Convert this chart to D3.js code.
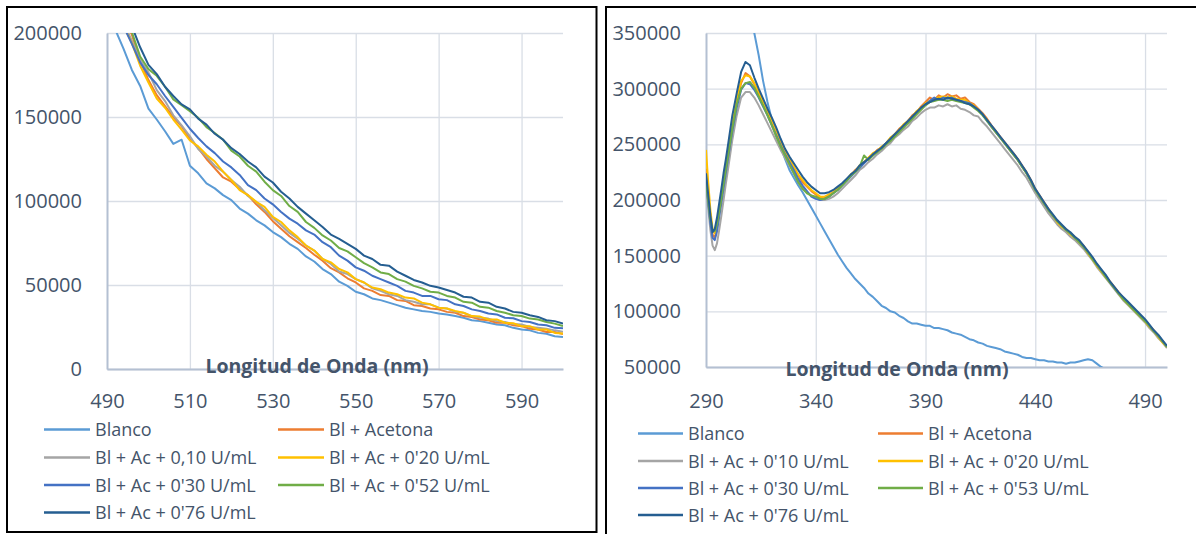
<!DOCTYPE html>
<html>
<head>
<meta charset="utf-8">
<script src="https://cdn.jsdelivr.net/npm/d3@7"></script>
<style>
  body { margin: 0; background: #ffffff; }
  svg { display: block; font-family: "Open Sans", "DejaVu Sans", sans-serif; }
</style>
</head>
<body>
<svg id="chart" width="1196" height="534"></svg>
<script>
// Fluorescence emission spectra. Intensities are listed in thousands of counts.
const UNIT = 1000;

// ---- Left panel: 490–600 nm ----
const wavelengthsLeft = [490,492,494,496,498,500,502,504,506,508,510,512,514,516,518,520,522,524,526,528,
  530,532,534,536,538,540,542,544,546,548,550,552,554,556,558,560,562,564,566,568,
  570,572,574,576,578,580,582,584,586,588,590,592,594,596,598,600];

const blancoLeft = [213,202,190.5,178,168.5,155,148.5,141.5,134,136.5, 121,116.5,110.5,107.5,103.5,100.5,95.5,92.5,88.5,85.5,
  81.5,78.5,74.5,71.5,67,64,59.5,56.5,52,49.5, 46,44.5,42,41,39.5,38,36.5,35.5,34.5,34,
  33,32.5,31.5,30.5,29,28.5,27.5,26.5,26,24.5, 23.5,23,21.5,21,19.5,19];
const acetonaLeft = [232,220,209,199,183.5,172,163,156.5,150,144.5, 137,131.5,125,119.5,114,111.5,107,103.5,98,93.5,
  88,83.5,79,75.5,72,68,64.5,60,57.5,54, 51.5,48,46.5,44,43.5,41,40.5,38,37.5,36,
  35.5,34,33.5,31.5,31,29.5,29,27.5,27.5,26, 25.5,24,23.5,22,22,20.8];
const u010Left = [230,218,206,195.5,184,176.5,166,159.5,151,145, 138.5,131,126.5,121,117.5,112.5,108.5,103,99.5,94.5,
  90,85.5,81,77.5,73.5,70.5,65.5,62.5,58,56.5, 53.5,51.5,48,46.5,44.5,43.5,41,40,38.5,38.5,
  36.5,36,34,33.5,31.5,30.5,30,28.5,28,26.8, 26.5,25,24.5,24,23,22.2];
const u020Left = [225,214,204,194,180.5,170.5,161,155.5,148.5,142.5, 136,132.5,127.5,123.5,117.5,112.5,106.5,103.5,99.5,96.5,
  90.5,87.5,82.5,78.5,73.5,70.5,65.5,63.5,59.5,57.5, 53.5,51.5,48.5,47.5,45.5,44.5,42.5,42,39.5,38.5,
  36.5,36,34.5,33.5,31.5,31.2,29.5,29.5,27.5,27.2, 25.5,25.5,23.5,23.5,21.5,21.2];
const u030Left = [228,216,204,193.5,182.5,175,169.5,162.5,156,149.5, 143,137.5,132.5,128.5,123.5,120,115.5,109.5,106.5,101.5,
  98,93.5,89.5,86.5,82.5,80,75.5,72.5,67.5,64.5, 60.5,58.5,55.5,53.5,51.5,49.5,46.5,45.5,43.5,43.5,
  41.5,41,38.5,37.5,35.5,34.5,33,32.5,30.5,30.2, 28.5,28,26.5,26,24.5,24.2];
const u052Left = [236,224,212,200.5,186,178.5,174.5,168,160.5,157, 153.5,149.5,144,140.5,136.5,130,126.5,121,117.5,111.5,
  106.5,103,97,93.5,87.5,84,79.5,76.5,72,70, 66.5,63,60.5,57.5,56.5,53.5,52,49.5,48,46,
  45.5,43.5,42.5,40,39.5,37,36.5,34.5,33.5,32, 31.5,30,29.5,28,27,25.6];
const u076Left = [240,228,216,204,191.5,181,175.5,168,162.5,157.5, 154.5,149,145.5,140,136.5,131.5,128,123.5,120,114.5,
  111,105.5,101.5,96.5,92.5,88.5,84.5,80,77.5,74.5, 71.5,67.5,65.5,62,61.5,58,55.5,53,51.5,49.5,
  48.5,47,45.5,43,42.5,40,39.5,37,36,34, 33.5,32,31,29,28.5,27];

const labelsLeft = ["Blanco", "Bl + Acetona", "Bl + Ac + 0,10 U/mL", "Bl + Ac + 0'20 U/mL",
  "Bl + Ac + 0'30 U/mL", "Bl + Ac + 0'52 U/mL", "Bl + Ac + 0'76 U/mL"];
const xTicksLeft = [490, 510, 530, 550, 570, 590];
const yTicksLeft = [0, 50000, 100000, 150000, 200000];

// ---- Right panel: 290–500 nm ----
const wavelengthsRight = [290,291,292,293,294,295,296,297,298,299,300,
  302,304,306,308,310,312,314,316,318,320, 322,324,326,328,330,332,334,336,338,340,
  342,344,346,348,350,352,354,356,358,360, 362,364,366,368,370,372,374,376,378,380,
  382,384,386,388,390,392,394,396,398,400, 402,404,406,408,410,412,414,416,418,420,
  422,424,426,428,430,432,434,436,438,440, 442,444,446,448,450,452,454,456,458,460,
  462,464,466,468,470,472,474,476,478,480, 482,484,486,488,490,492,494,496,498,500];

const blancoRight = [900,850,800,755,712,672,636,603,573,546,520,
  478,447,418,393,370,350,330,307,288,272, 260,248,237,227,220,213,207,200,193,186,
  179,172,165,158,151,145,139,134,129,125, 121,116,113,109,105,103,100,99,96,94,
  91,89,89,88,87,87,85,85,84,83, 81,80,79,77,75,74,72,71,69,68,
  67,66,64,63,62,61,59,58,58,57, 56,56,55,55,54,54,53,54,54,55,
  56,57,56,53,50,48,45,43,41,39, 37,35,34,33,32,31,30,29,28,27];
const acetonaRight = [228,206,185,169,166,174,187,200,213,226,239,
  265,287,305,314,311,304,296,287,278,269, 260,251,243,236,229,222,216,212,208,205,
  202,202,204,207,210,214,218,222,227,230, 234,238,241,245,247,251,255,259,264,267,
  271,276,279,284,288,292,290,294,292,295, 293,294,291,292,288,286,282,278,273,267,
  262,257,252,247,242,237,231,225,218,210, 204,198,192,186,181,177,174,170,167,163,
  159,153,148,142,137,132,127,122,117,112, 108,104,100,96,92,87,83,78,73,68];
const u010Right = [212,193,173,159,155,161,173,186,200,214,227,
  254,276,292,297,297,292,285,277,269,261, 253,245,238,231,224,217,212,207,204,202,
  200,200,201,203,206,210,214,218,222,227, 230,234,237,241,244,248,251,256,259,263,
  266,271,274,278,281,283,283,285,284,286, 284,285,282,281,279,276,275,270,266,261,
  256,251,246,241,236,231,225,220,213,206, 200,194,188,183,178,174,171,167,164,160,
  156,151,146,140,135,130,125,120,115,110, 106,102,98,94,90,85,81,76,72,67];
const u020Right = [245,216,191,174,170,177,189,202,216,229,242,
  268,290,307,312,311,305,297,288,279,270, 261,252,244,237,230,223,218,213,209,206,
  203,203,205,207,211,214,218,223,226,231, 234,238,242,244,248,251,256,259,263,268,
  271,275,280,283,287,289,291,292,293,292, 293,291,290,290,287,285,281,277,272,266,
  261,256,251,246,241,236,230,224,217,209, 203,197,191,186,180,176,173,169,166,162,
  158,152,147,141,136,131,126,121,116,111, 107,103,99,95,91,86,82,77,72,68];
const u030Right = [220,198,179,166,164,172,185,198,211,224,237,
  262,283,299,305,304,299,292,284,276,267, 258,249,241,234,227,219,213,208,203,201,
  200,201,203,206,209,213,217,221,225,229, 233,237,240,244,247,251,254,258,262,266,
  270,274,278,282,286,289,292,290,292,291, 292,290,289,288,287,284,281,277,271,266,
  261,256,251,246,241,236,230,224,217,209, 203,197,191,186,181,177,173,170,166,163,
  158,153,148,142,137,132,126,121,116,112, 108,104,100,96,92,87,82,78,73,68];
const u053Right = [218,199,183,173,172,178,189,201,214,227,239,
  264,286,300,305,306,301,293,285,276,267, 257,248,240,232,224,216,210,206,204,203,
  201,201,203,206,209,213,217,222,225,230, 240,236,240,243,246,250,253,257,261,265,
  269,273,277,281,285,288,289,290,290,289, 290,289,288,287,286,283,280,276,271,266,
  261,256,251,246,241,236,230,224,217,209, 203,197,191,186,181,177,173,170,166,162,
  158,153,147,142,137,131,126,121,116,111, 107,103,99,95,91,87,82,78,73,68];
const u076Right = [224,205,186,171,174,184,197,210,224,236,249,
  276,296,315,324,321,310,300,291,282,274, 265,255,246,239,233,227,221,216,212,209,
  206,206,207,209,212,215,219,223,226,231, 234,237,241,244,247,251,255,259,263,267,
  271,275,279,283,286,288,290,291,290,292, 291,290,289,287,286,284,281,277,272,267,
  262,257,252,247,242,237,231,225,218,210, 204,198,192,187,182,178,174,171,167,164,
  159,154,149,143,138,133,127,122,117,113, 109,105,101,97,93,88,83,79,74,69];

const labelsRight = ["Blanco", "Bl + Acetona", "Bl + Ac + 0'10 U/mL", "Bl + Ac + 0'20 U/mL",
  "Bl + Ac + 0'30 U/mL", "Bl + Ac + 0'53 U/mL", "Bl + Ac + 0'76 U/mL"];
const xTicksRight = [290, 340, 390, 440, 490];
const yTicksRight = [50000, 100000, 150000, 200000, 250000, 300000, 350000];

const seriesColors = ["#5B9BD5", "#ED7D31", "#A5A5A5", "#FFC000", "#4472C4", "#70AD47", "#255E91"];
const axisTitle = "Longitud de Onda (nm)";

// ---- Drawing ----
const TEXT = "#44546A";
const GRID = "#D9DEE6";
const AXIS = "#B4C0D2";
const svg = d3.select("#chart");

const panels = [
  {
    id: "left",
    frame: { x: 7, y: 7, w: 589.5, h: 525 },
    x: d3.scaleLinear().domain([490, 600]).range([107, 563]),
    y: d3.scaleLinear().domain([0, 200000]).range([369, 33]),
    xTicks: xTicksLeft, yTicks: yTicksLeft,
    wl: wavelengthsLeft,
    series: [blancoLeft, acetonaLeft, u010Left, u020Left, u030Left, u052Left, u076Left],
    labels: labelsLeft,
    title: { x: 317, y: 373 },
    xLabelPad: 25,
    legend: { col: [44, 278], swatchW: 46, textGap: 5, rows: [436, 464, 491.5, 519] }
  },
  {
    id: "right",
    frame: { x: 606, y: 7, w: 620, h: 560 },
    x: d3.scaleLinear().domain([290, 500]).range([706, 1167]),
    y: d3.scaleLinear().domain([50000, 350000]).range([367, 33]),
    xTicks: xTicksRight, yTicks: yTicksRight,
    wl: wavelengthsRight,
    series: [blancoRight, acetonaRight, u010Right, u020Right, u030Right, u053Right, u076Right],
    labels: labelsRight,
    title: { x: 897, y: 376 },
    xLabelPad: 27,
    legend: { col: [638, 878], swatchW: 45, textGap: 5, rows: [440, 467.5, 494.5, 521.5] }
  }
];

panels.forEach(p => {
  const g = svg.append("g").attr("class", "panel-" + p.id);
  const [x0, x1] = p.x.range();
  const [yBottom, yTop] = p.y.range();

  // frame
  g.append("rect")
    .attr("x", p.frame.x).attr("y", p.frame.y)
    .attr("width", p.frame.w).attr("height", p.frame.h)
    .attr("fill", "none").attr("stroke", "#000").attr("stroke-width", 2);

  // horizontal gridlines
  g.append("g")
    .attr("transform", `translate(${x0},0)`)
    .call(d3.axisLeft(p.y).tickValues(p.yTicks).tickSize(-(x1 - x0)).tickFormat(""))
    .call(s => s.select(".domain").remove())
    .call(s => s.selectAll(".tick line").attr("stroke", GRID).attr("stroke-width", 1.3));

  // vertical gridlines
  g.append("g")
    .attr("transform", `translate(0,${yBottom})`)
    .call(d3.axisBottom(p.x).tickValues(p.xTicks.slice(1)).tickSize(-(yBottom - yTop)).tickFormat(""))
    .call(s => s.select(".domain").remove())
    .call(s => s.selectAll(".tick line").attr("stroke", GRID).attr("stroke-width", 1.3));

  // y axis with labels
  g.append("g")
    .attr("transform", `translate(${x0},0)`)
    .call(d3.axisLeft(p.y).tickValues(p.yTicks).tickSize(0).tickPadding(25).tickFormat(d3.format("d")))
    .call(s => s.select(".domain").attr("stroke", AXIS).attr("stroke-width", 2))
    .call(s => s.selectAll(".tick text")
      .attr("fill", TEXT).style("font-size", "20px")
      .style("font-family", "'Open Sans', sans-serif"));

  // x axis with labels
  g.append("g")
    .attr("transform", `translate(0,${yBottom})`)
    .call(d3.axisBottom(p.x).tickValues(p.xTicks).tickSize(0).tickPadding(p.xLabelPad).tickFormat(d3.format("d")))
    .call(s => s.select(".domain").attr("stroke", AXIS).attr("stroke-width", 2))
    .call(s => s.selectAll(".tick text")
      .attr("fill", TEXT).style("font-size", "20px")
      .style("font-family", "'Open Sans', sans-serif"));

  // series
  const clipId = "clip-" + p.id;
  g.append("clipPath").attr("id", clipId)
    .append("rect").attr("x", x0).attr("y", yTop)
    .attr("width", x1 - x0).attr("height", yBottom - yTop);

  const line = d3.line()
    .x((d, i) => p.x(p.wl[i]))
    .y(d => p.y(d * UNIT));

  const lines = g.append("g").attr("clip-path", `url(#${clipId})`);
  p.series.forEach((vals, i) => {
    lines.append("path")
      .datum(vals)
      .attr("d", line)
      .attr("fill", "none")
      .attr("stroke", seriesColors[i])
      .attr("stroke-width", 2)
      .attr("stroke-linejoin", "round");
  });

  // axis title
  g.append("text")
    .attr("x", p.title.x).attr("y", p.title.y)
    .attr("text-anchor", "middle")
    .attr("fill", TEXT)
    .style("font-size", "19.5px").style("font-weight", "bold")
    .text(axisTitle);

  // legend
  const lg = g.append("g").attr("class", "legend");
  p.labels.forEach((lab, i) => {
    const cx = p.legend.col[i % 2];
    const by = p.legend.rows[Math.floor(i / 2)];
    lg.append("line")
      .attr("x1", cx).attr("x2", cx + p.legend.swatchW)
      .attr("y1", by - 6.5).attr("y2", by - 6.5)
      .attr("stroke", seriesColors[i]).attr("stroke-width", 2.5);
    lg.append("text")
      .attr("x", cx + p.legend.swatchW + p.legend.textGap).attr("y", by)
      .attr("fill", TEXT)
      .style("font-size", "18px")
      .text(lab);
  });
});
</script>
</body>
</html>
